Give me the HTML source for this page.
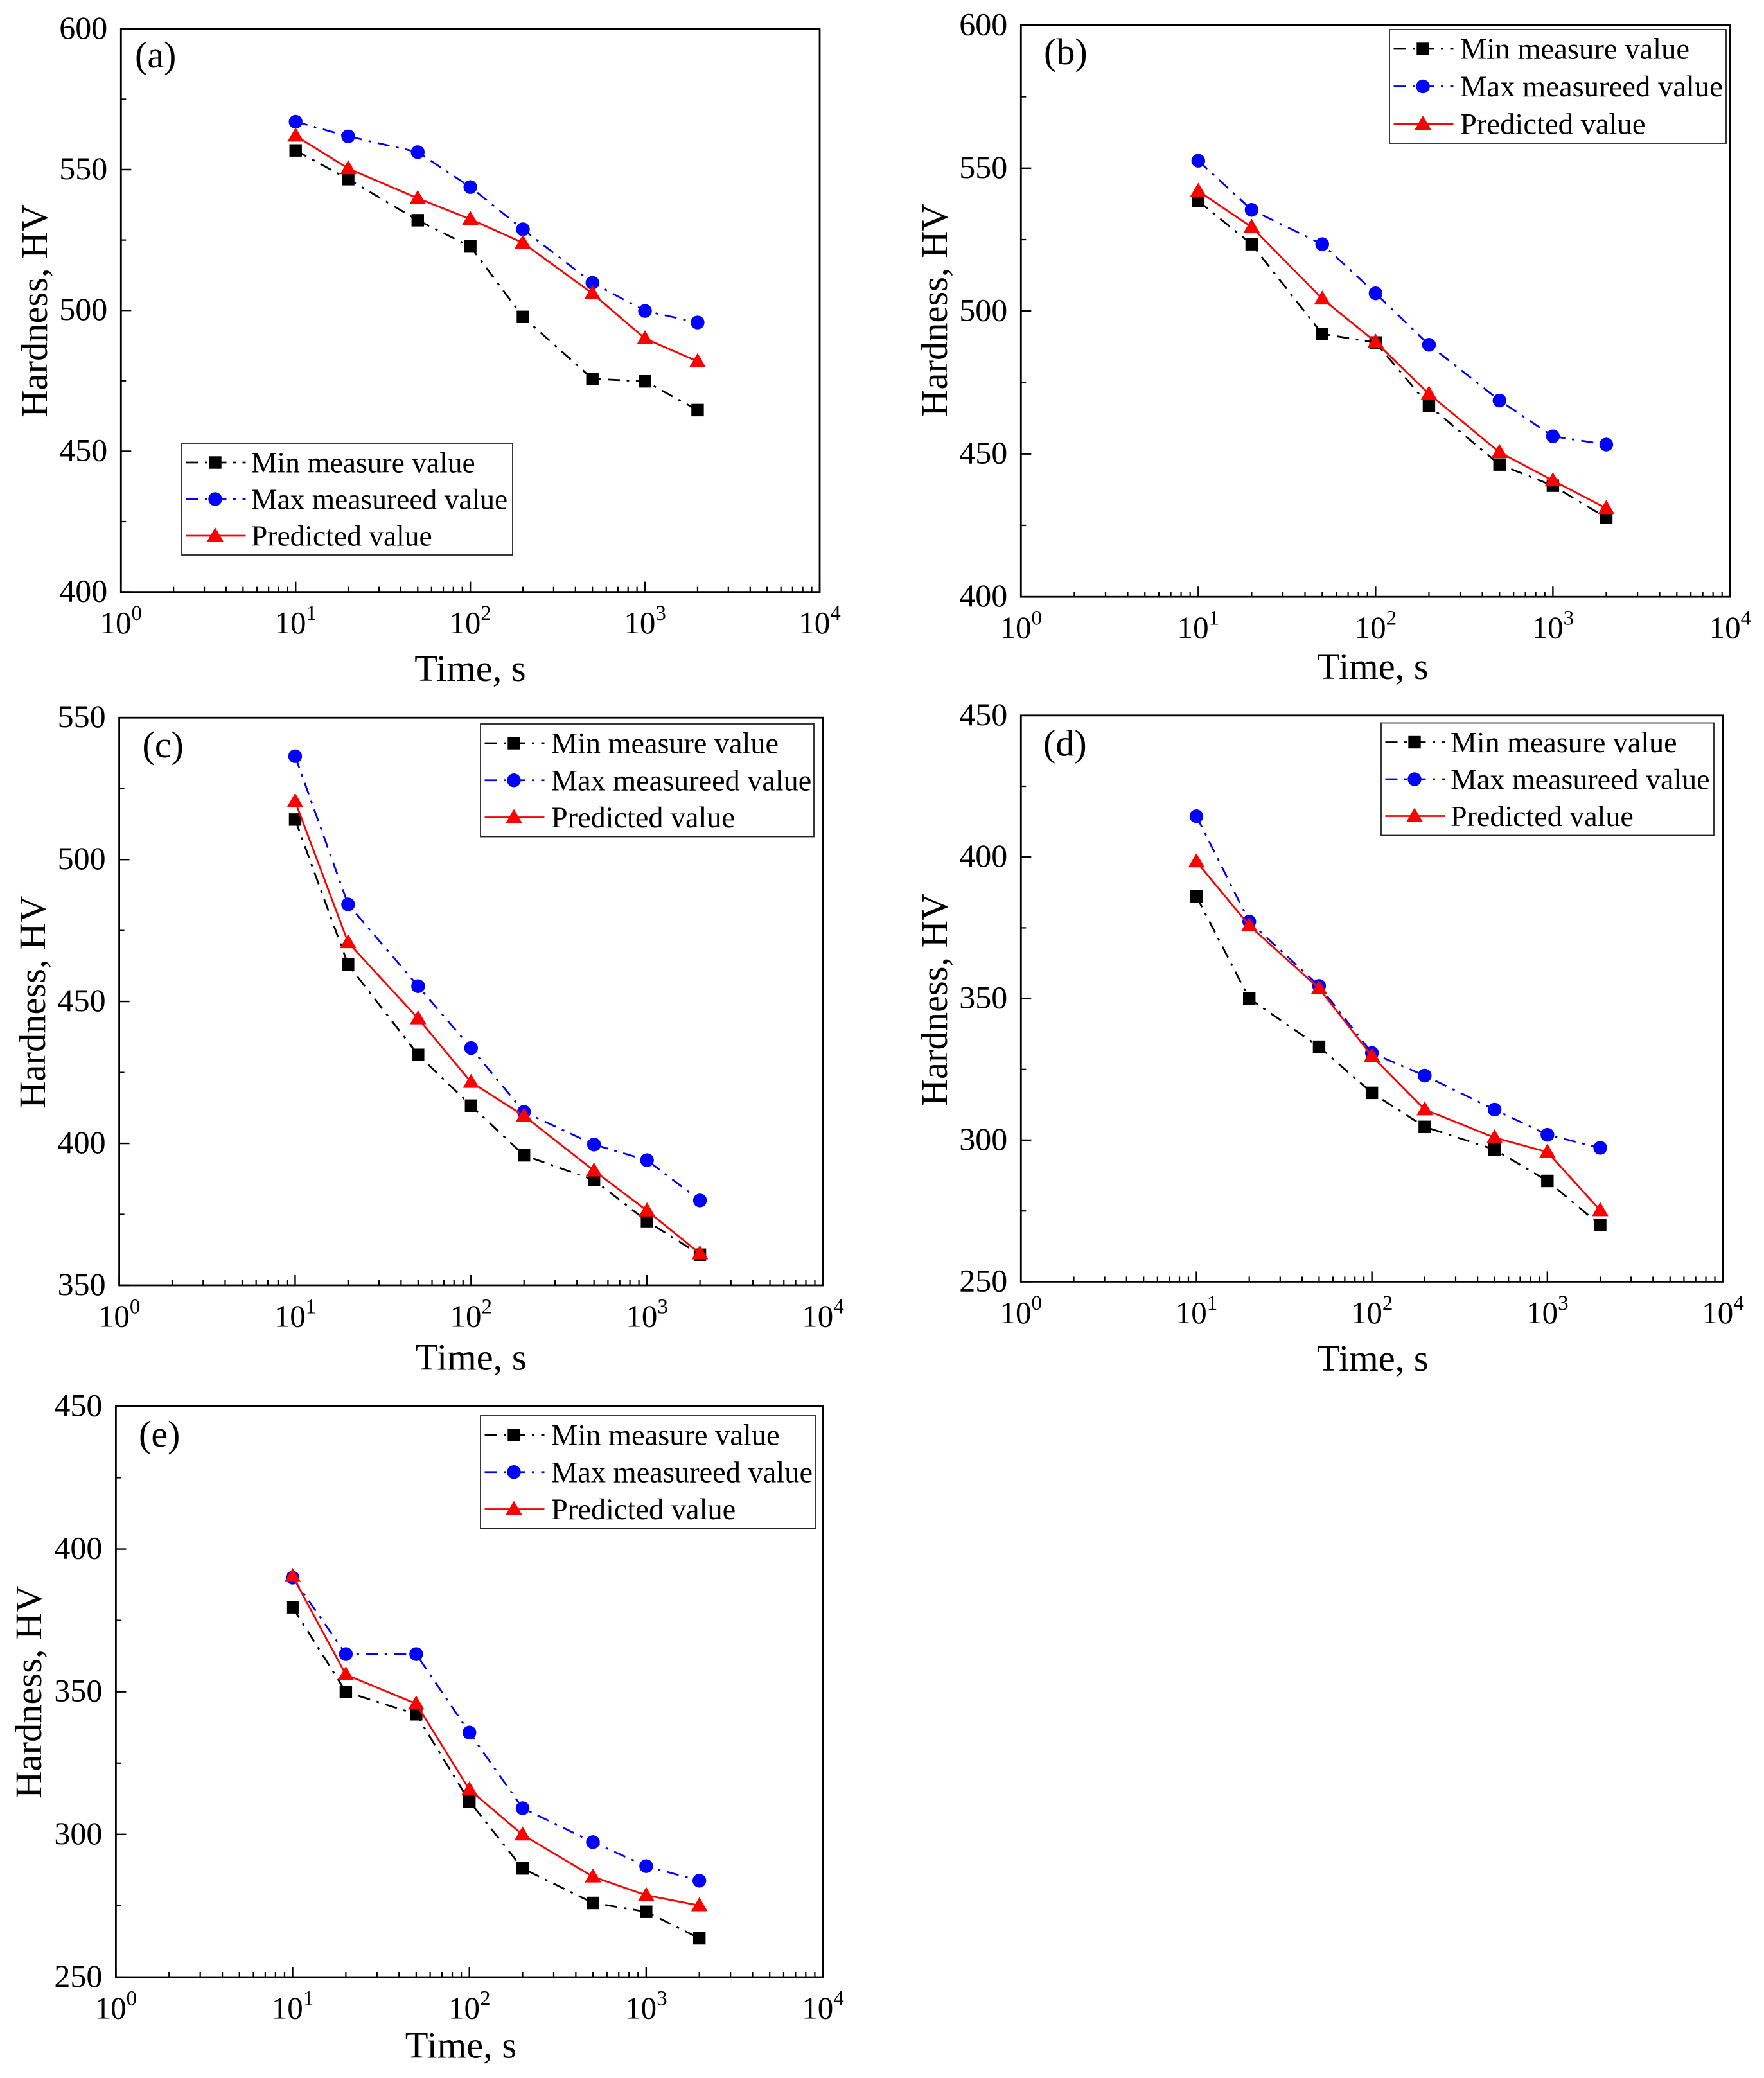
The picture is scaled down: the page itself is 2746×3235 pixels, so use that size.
<!DOCTYPE html>
<html lang="en">
<head>
<meta charset="utf-8">
<title>Hardness vs time panels</title>
<style>
html,body{margin:0;padding:0;background:#fff;}
svg{display:block;font-family:"Liberation Serif",serif;fill:#000;}
</style>
</head>
<body>
<svg id="chart" xmlns="http://www.w3.org/2000/svg" width="2746" height="3235" viewBox="0 0 2746 3235"></svg>
<script>
const times = [10, 20, 50, 100, 200, 500, 1000, 2000];
const xTickExponents = [0, 1, 2, 3, 4];
const seriesNames = ["Min measure value", "Max measureed value", "Predicted value"];
const xAxisTitle = "Time, s";
const yAxisTitle = "Hardness, HV";

const aMin = [556.8, 546.6, 532, 522.7, 497.7, 475.7, 474.8, 464.6];
const aMax = [567, 561.8, 556.2, 543.8, 528.8, 509.8, 499.8, 495.7];
const aPred = [562, 550.4, 539.8, 532.4, 524, 506, 490, 481.9];
const aYTicks = [400, 450, 500, 550, 600];

const bMin = [538.5, 523.4, 492, 489, 466.9, 446.3, 438.9, 427.7];
const bMax = [552.6, 535.4, 523.4, 506.2, 488.2, 468.7, 456.2, 453.3];
const bPred = [542, 529.4, 504.3, 489.2, 471, 450.6, 440.7, 431];
const bYTicks = [400, 450, 500, 550, 600];

const cMin = [514.1, 463, 431.2, 413.3, 395.8, 387.1, 372.6, 360.8];
const cMax = [536.4, 484.2, 455.4, 433.6, 411.1, 399.6, 394.1, 379.9];
const cPred = [520.5, 470.8, 444, 421.6, 409.7, 390.4, 376.3, 361.2];
const cYTicks = [350, 400, 450, 500, 550];

const dMin = [386.1, 350, 333, 316.7, 304.7, 296.7, 285.6, 270];
const dMax = [414.4, 377.2, 354.5, 330.8, 322.8, 310.8, 301.9, 297.3];
const dPred = [398.4, 375.8, 353.6, 329.7, 310.8, 300.9, 295.8, 275.2];
const dYTicks = [250, 300, 350, 400, 450];

const eMin = [379.6, 350, 342.1, 311.6, 288.1, 276, 272.9, 263.6];
const eMax = [390, 363.2, 363.2, 335.7, 309.2, 297.3, 288.9, 283.8];
const ePred = [390.5, 356, 345.8, 315.7, 299.9, 285.2, 278.7, 275.1];
const eYTicks = [250, 300, 350, 400, 450];

const panels = [
  {id:"a", min:aMin, max:aMax, pred:aPred, yTicks:aYTicks,
   left:188.3, right:1276, top:44.8, bottom:921.6,
   legend:[283,690,515,174], legendFont:45.5, legendTextDx:108, labelX:210, labelY:105, xTitleX:732, xTitleY:1060, yTitleX:73, yTitleY:484},
  {id:"b", min:bMin, max:bMax, pred:bPred, yTicks:bYTicks,
   left:1589.3, right:2693.4, top:39.3, bottom:929.2,
   legend:[2163,46,524,177], legendFont:46.6, legendTextDx:110, labelX:1625, labelY:100, xTitleX:2137, xTitleY:1057, yTitleX:1474, yTitleY:483},
  {id:"c", min:cMin, max:cMax, pred:cPred, yTicks:cYTicks,
   left:185.6, right:1281, top:1117.2, bottom:2001,
   legend:[748,1127,519,175.5], legendFont:46.2, legendTextDx:110, labelX:221.5, labelY:1179, xTitleX:733, xTitleY:2132.6, yTitleX:70, yTitleY:1560},
  {id:"d", min:dMin, max:dMax, pred:dPred, yTicks:dYTicks,
   left:1589.3, right:2682, top:1113.8, bottom:1995.4,
   legend:[2150,1125.5,518,175], legendFont:46, legendTextDx:108, labelX:1624, labelY:1176.5, xTitleX:2137, xTitleY:2134, yTitleX:1474, yTitleY:1556.5},
  {id:"e", min:eMin, max:eMax, pred:ePred, yTicks:eYTicks,
   left:180.4, right:1281, top:2189.4, bottom:3078,
   legend:[748,2204,522,175.5], legendFont:46.4, legendTextDx:110, labelX:216, labelY:2252, xTitleX:717.5, xTitleY:3203.6, yTitleX:64, yTitleY:2634}
];

const NS = "http://www.w3.org/2000/svg";
const root = document.getElementById("chart");

function make(parent, tag, name, attrs) {
  const el = document.createElementNS(NS, tag);
  
  
  for (const k in attrs) el.setAttribute(k, attrs[k]);
  parent.appendChild(el);
  return el;
}
function xScale(p, v) {
  return p.left + Math.log10(v) / 4 * (p.right - p.left);
}
function yScale(p, v) {
  const lo = p.yTicks[0], hi = p.yTicks[p.yTicks.length - 1];
  return p.bottom - (v - lo) / (hi - lo) * (p.bottom - p.top);
}
const lineDash = ["19 10.5 4 10.5", "19 10.5 4 10.5", "none"];
const lineColor = ["#000000", "#0000ff", "#ff0000"];

function drawMarker(g, kind, x, y, color, name) {
  if (kind === 0) {
    make(g, "rect", name, {x:x-9.7, y:y-9.7, width:19.4, height:19.4, fill:color});
  } else if (kind === 1) {
    make(g, "circle", name, {cx:x, cy:y, r:10.7, fill:color});
  } else {
    make(g, "polygon", name, {points:(x)+","+(y-13)+" "+(x+12.8)+","+(y+9)+" "+(x-12.8)+","+(y+9), fill:color});
  }
}

function drawAxes(g, p) {
  const ink = "#000";
  make(g, "rect", "plot-frame", {x:p.left, y:p.top, width:p.right-p.left, height:p.bottom-p.top, fill:"none", stroke:ink, "stroke-width":2.8});
  xTickExponents.forEach(function (e) {
    const v = Math.pow(10, e);
    const x = xScale(p, v);
    make(g, "line", "x-major-tick", {x1:x, x2:x, y1:p.bottom, y2:p.bottom-16, stroke:ink, "stroke-width":2.4});
    const label = make(g, "text", "x-tick-label", {x:x, y:p.bottom+64.5, "text-anchor":"middle", "font-size":49});
    label.appendChild(document.createTextNode("10"));
    const sup = document.createElementNS(NS, "tspan");
    
    
    sup.setAttribute("font-size", "33");
    sup.setAttribute("dy", "-21");
    sup.textContent = String(e);
    label.appendChild(sup);
    if (e < 4) {
      for (let m = 2; m <= 9; m++) {
        const mx = xScale(p, m * v);
        make(g, "line", "x-minor-tick", {x1:mx, x2:mx, y1:p.bottom, y2:p.bottom-8, stroke:ink, "stroke-width":2.2});
      }
    }
  });
  p.yTicks.forEach(function (t, i) {
    const y = yScale(p, t);
    make(g, "line", "y-major-tick", {x1:p.left, x2:p.left+16, y1:y, y2:y, stroke:ink, "stroke-width":2.4});
    const label = make(g, "text", "y-tick-label", {x:p.left-21, y:y+15, "text-anchor":"end", "font-size":50});
    label.textContent = String(t);
    if (i < p.yTicks.length - 1) {
      const my = yScale(p, (t + p.yTicks[i+1]) / 2);
      make(g, "line", "y-minor-tick", {x1:p.left, x2:p.left+8, y1:my, y2:my, stroke:ink, "stroke-width":2.2});
    }
  });
  make(g, "text", "x-axis-title", {x:p.xTitleX, y:p.xTitleY, "text-anchor":"middle", "font-size":58.5}).textContent = xAxisTitle;
  make(g, "text", "y-axis-title", {x:p.yTitleX, y:p.yTitleY, "text-anchor":"middle", "font-size":58.5, transform:"rotate(-90 "+p.yTitleX+" "+p.yTitleY+")"}).textContent = yAxisTitle;
  make(g, "text", "panel-label", {x:p.labelX, y:p.labelY, "font-size":58}).textContent = "(" + p.id + ")";
}

function drawSeries(g, p) {
  [p.min, p.max, p.pred].forEach(function (vals, s) {
    const sg = make(g, "g", "series-" + ["min","max","predicted"][s], {});
    const pts = vals.map(function (v, i) { return xScale(p, times[i]) + "," + yScale(p, v); }).join(" ");
    make(sg, "polyline", "series-line", {points:pts, fill:"none", stroke:lineColor[s], "stroke-width":2.8, "stroke-dasharray":lineDash[s]});
    vals.forEach(function (v, i) {
      drawMarker(sg, s, xScale(p, times[i]), yScale(p, v), lineColor[s], "data-point");
    });
  });
}

function drawLegend(g, p) {
  const b = p.legend;
  const lg = make(g, "g", "legend", {});
  make(lg, "rect", "legend-box", {x:b[0], y:b[1], width:b[2], height:b[3], fill:"#fff", stroke:"#222", "stroke-width":1.8});
  const rowGap = (b[3] - 60) / 2;
  seriesNames.forEach(function (name, s) {
    const y = b[1] + 30 + s * rowGap;
    const ex = make(lg, "g", "legend-entry", {});
    make(ex, "line", "legend-line", {x1:b[0]+6.5, x2:b[0]+99.5, y1:y, y2:y, stroke:lineColor[s], "stroke-width":2.8, "stroke-dasharray":lineDash[s]});
    drawMarker(ex, s, b[0]+52, y, lineColor[s], "legend-marker");
    make(ex, "text", "legend-label", {x:b[0]+p.legendTextDx, y:y+15.5, "font-size":p.legendFont}).textContent = name;
  });
}

panels.forEach(function (p) {
  const g = make(root, "g", "panel-" + p.id, {});
  drawAxes(g, p);
  drawSeries(g, p);
  drawLegend(g, p);
});
</script>
</body>
</html>
